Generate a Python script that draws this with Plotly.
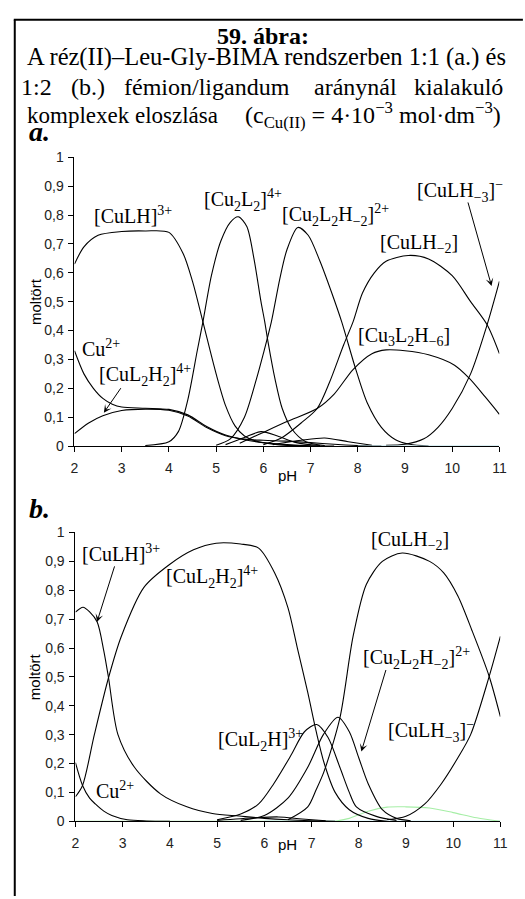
import plotly.graph_objects as go

W, H = 525, 899

# ---------------- a. : 1:1 fémion/ligandum arány ----------------
ph_cu_a = [2.0, 2.2, 2.4, 2.6, 2.8, 3.0, 3.5, 4.0, 4.4, 4.8, 5.2, 5.6, 6.0, 6.5, 7.0, 7.5]
cu_a = [0.33, 0.25, 0.20, 0.165, 0.145, 0.135, 0.131, 0.127, 0.108, 0.068, 0.038, 0.022, 0.012, 0.005, 0.001, 0.0]

ph_culh_a = [2.0, 2.2, 2.5, 3.0, 3.5, 4.0, 4.3, 4.5, 4.72, 5.0, 5.2, 5.4, 5.6, 5.9, 6.3, 7.0]
culh_a = [0.63, 0.69, 0.73, 0.743, 0.745, 0.74, 0.667, 0.57, 0.43, 0.25, 0.14, 0.07, 0.035, 0.015, 0.005, 0.0]

ph_cul2h2_a = [2.0, 2.3, 2.6, 3.0, 3.5, 4.0, 4.4, 4.8, 5.2, 5.6, 6.0, 6.5, 7.0, 7.5, 8.0, 8.5]
cul2h2_a = [0.043, 0.08, 0.105, 0.123, 0.128, 0.124, 0.104, 0.064, 0.036, 0.024, 0.02, 0.017, 0.012, 0.006, 0.002, 0.0]

ph_cu2l2_a = [3.5, 4.0, 4.2, 4.4, 4.6, 4.72, 4.9, 5.1, 5.3, 5.47, 5.65, 5.8, 5.95, 6.03, 6.1, 6.25, 6.4, 6.6, 6.9, 7.3]
cu2l2_a = [0.002, 0.015, 0.05, 0.16, 0.33, 0.43, 0.59, 0.71, 0.775, 0.794, 0.76, 0.65, 0.5, 0.43, 0.36, 0.23, 0.13, 0.06, 0.015, 0.002]

ph_cu2l2hm2_a = [5.0, 5.3, 5.6, 5.85, 6.0, 6.17, 6.35, 6.5, 6.73, 6.95, 7.2, 7.45, 7.66, 7.95, 8.2, 8.5, 8.8, 9.1, 9.5]
cu2l2hm2_a = [0.003, 0.025, 0.1, 0.23, 0.32, 0.43, 0.58, 0.68, 0.757, 0.73, 0.64, 0.53, 0.43, 0.27, 0.15, 0.065, 0.022, 0.006, 0.0]

ph_culhm2_a = [6.0, 6.4, 6.8, 7.14, 7.4, 7.7, 7.9, 8.1, 8.35, 8.6, 9.07, 9.5, 10.0, 10.39, 10.74, 11.0]
culhm2_a = [0.005, 0.03, 0.08, 0.13, 0.22, 0.35, 0.43, 0.53, 0.6, 0.64, 0.66, 0.648, 0.59, 0.5, 0.42, 0.32]

ph_cu3l2hm6_a = [5.5, 5.9, 6.5, 7.14, 7.5, 7.9, 8.3, 8.6, 9.0, 9.5, 10.05, 10.36, 10.7, 11.0]
cu3l2hm6_a = [0.01, 0.04, 0.085, 0.13, 0.18, 0.265, 0.32, 0.333, 0.33, 0.316, 0.28, 0.235, 0.17, 0.11]

ph_culhm3_a = [8.6, 9.0, 9.4, 9.7, 10.0, 10.39, 10.74, 11.0]
culhm3_a = [0.003, 0.006, 0.025, 0.065, 0.13, 0.25, 0.42, 0.57]

ph_minor1_a = [5.2, 5.6, 5.95, 6.3, 6.7, 7.2]
minor1_a = [0.005, 0.03, 0.05, 0.035, 0.012, 0.002]

ph_minor2_a = [6.2, 6.8, 7.3, 7.8, 8.3]
minor2_a = [0.005, 0.02, 0.028, 0.015, 0.003]

ph_ligand_a = [8.0, 11.0]
ligand_a = [0.0, 0.0]

# ---------------- b. : 1:2 fémion/ligandum arány ----------------
ph_cu_b = [2.0, 2.15, 2.3, 2.42, 2.6, 2.77, 3.1, 3.5, 4.0]
cu_b = [0.203, 0.124, 0.08, 0.06, 0.035, 0.02, 0.005, 0.001, 0.0]

ph_culh_b = [2.0, 2.16, 2.3, 2.46, 2.6, 2.7, 2.9, 3.25, 3.8, 4.36, 4.9, 5.47, 6.0, 6.5, 7.0, 7.5]
culh_b = [0.724, 0.741, 0.725, 0.69, 0.59, 0.497, 0.3, 0.187, 0.095, 0.05, 0.027, 0.018, 0.01, 0.005, 0.002, 0.0]

ph_cul2h2_b = [2.0, 2.15, 2.4, 2.7, 2.97, 3.45, 4.0, 4.5, 4.98, 5.5, 5.88, 6.22, 6.5, 6.7, 6.92, 7.1, 7.27, 7.5, 7.8, 8.2, 8.6]
cul2h2_b = [0.085, 0.124, 0.3, 0.497, 0.64, 0.81, 0.89, 0.94, 0.963, 0.96, 0.946, 0.86, 0.74, 0.6, 0.446, 0.31, 0.2, 0.1, 0.04, 0.01, 0.0]

ph_cul2h_b = [5.0, 5.5, 5.88, 6.2, 6.57, 6.85, 7.11, 7.35, 7.6, 7.8, 7.95, 8.37, 8.8]
cul2h_b = [0.005, 0.025, 0.06, 0.13, 0.23, 0.31, 0.335, 0.29, 0.187, 0.1, 0.05, 0.017, 0.003]

ph_cu2l2hm2_b = [5.5, 6.0, 6.5, 6.92, 7.25, 7.56, 7.8, 8.0, 8.2, 8.5, 8.8, 9.1]
cu2l2hm2_b = [0.003, 0.02, 0.08, 0.187, 0.3, 0.36, 0.31, 0.22, 0.13, 0.04, 0.01, 0.002]

ph_culhm2_b = [6.5, 6.92, 7.1, 7.26, 7.6, 7.88, 8.16, 8.5, 8.92, 9.5, 9.8, 10.1, 10.4, 10.76, 11.0]
culhm2_b = [0.005, 0.05, 0.11, 0.17, 0.357, 0.64, 0.82, 0.9, 0.929, 0.9, 0.86, 0.78, 0.66, 0.503, 0.362]

ph_culhm3_b = [8.6, 9.0, 9.4, 9.75, 10.1, 10.37, 10.76, 11.0]
culhm3_b = [0.005, 0.017, 0.06, 0.13, 0.22, 0.3, 0.5, 0.64]

ph_minor_b = [5.0, 5.8, 6.3, 6.8, 7.3]
minor_b = [0.003, 0.012, 0.015, 0.008, 0.002]

ph_green_b = [7.5, 7.8, 8.2, 8.6, 9.0, 9.5, 10.0, 10.5, 11.0]
green_b = [0.0, 0.01, 0.035, 0.049, 0.05, 0.046, 0.03, 0.012, 0.0]

ph_green0_b = [2.0, 7.5]
green0_b = [0.0, 0.0]

ph_cyan_b = [6.0, 11.0]
cyan_b = [0.0, 0.0]

y_ticks = [0, 0.1, 0.2, 0.3, 0.4, 0.5, 0.6, 0.7, 0.8, 0.9, 1]
y_labels = ["0", "0,1", "0,2", "0,3", "0,4", "0,5", "0,6", "0,7", "0,8", "0,9", "1"]
x_ticks = [2, 3, 4, 5, 6, 7, 8, 9, 10, 11]

SERIF = "Liberation Serif, Times New Roman, serif"
SANS = "Liberation Sans, Arial, sans-serif"


def fx(px):
    return px / W


def fy(py):
    return 1 - py / H


series_a = [
    (ph_cu_a, cu_a, "black"), (ph_culh_a, culh_a, "black"), (ph_cul2h2_a, cul2h2_a, "black"),
    (ph_cu2l2_a, cu2l2_a, "black"), (ph_cu2l2hm2_a, cu2l2hm2_a, "black"),
    (ph_culhm2_a, culhm2_a, "black"), (ph_cu3l2hm6_a, cu3l2hm6_a, "black"),
    (ph_culhm3_a, culhm3_a, "black"), (ph_minor1_a, minor1_a, "black"),
    (ph_minor2_a, minor2_a, "black"), (ph_ligand_a, ligand_a, "#b8e0e8"),
]
series_b = [
    (ph_green0_b, green0_b, "#9be89b"), (ph_cyan_b, cyan_b, "#9fe3ee"),
    (ph_green_b, green_b, "#a6eea6"),
    (ph_cu_b, cu_b, "black"), (ph_culh_b, culh_b, "black"), (ph_cul2h2_b, cul2h2_b, "black"),
    (ph_cul2h_b, cul2h_b, "black"), (ph_cu2l2hm2_b, cu2l2hm2_b, "black"),
    (ph_culhm2_b, culhm2_b, "black"), (ph_culhm3_b, culhm3_b, "black"),
    (ph_minor_b, minor_b, "black"),
]

fig = go.Figure()
for xs, ys, col in series_a:
    fig.add_trace(go.Scatter(x=xs, y=ys, mode="lines", xaxis="x", yaxis="y",
                             line=dict(color=col, width=1.1, shape="spline", smoothing=0.8),
                             hoverinfo="skip", showlegend=False, cliponaxis=True))
for xs, ys, col in series_b:
    fig.add_trace(go.Scatter(x=xs, y=ys, mode="lines", xaxis="x2", yaxis="y2",
                             line=dict(color=col, width=1.1, shape="spline", smoothing=0.8),
                             hoverinfo="skip", showlegend=False, cliponaxis=True))

xaxis_style = dict(range=[2, 11], tickvals=x_ticks, ticks="outside", ticklen=5, tickcolor="black",
                   showline=True, linecolor="black", linewidth=1, showgrid=False, zeroline=False,
                   tickfont=dict(family=SANS, size=14, color="#222"), ticklabelstandoff=4,
                   fixedrange=True)
yaxis_style = dict(range=[0, 1], tickvals=y_ticks, ticktext=y_labels, ticks="outside", ticklen=5,
                   tickcolor="black", showline=True, linecolor="black", linewidth=1,
                   showgrid=False, zeroline=False, ticklabelstandoff=2,
                   tickfont=dict(family=SANS, size=14, color="#222"), fixedrange=True)

fig.update_layout(
    width=W, height=H, margin=dict(l=0, r=0, t=0, b=0),
    paper_bgcolor="white", plot_bgcolor="white",
    xaxis=dict(domain=[fx(72), fx(506)], anchor="y", **xaxis_style),
    yaxis=dict(domain=[fy(446), fy(152)], anchor="x", **yaxis_style),
    xaxis2=dict(domain=[fx(73), fx(507)], anchor="y2", **xaxis_style),
    yaxis2=dict(domain=[fy(828), fy(534)], anchor="x2", **yaxis_style),
)

ann = []


def txt(text, px, py, size=20, xanchor="left", family=SERIF, angle=0):
    ann.append(dict(text=text, x=fx(px), y=fy(py), xref="paper", yref="paper",
                    xanchor=xanchor, yanchor="middle", showarrow=False, textangle=angle,
                    font=dict(family=family, size=size, color="black")))


def arrow(tail, head):
    ann.append(dict(text="", x=fx(head[0]), y=fy(head[1]), xref="paper", yref="paper",
                    ax=tail[0] - head[0], ay=tail[1] - head[1], axref="pixel", ayref="pixel",
                    showarrow=True, arrowhead=3, arrowsize=1.3, arrowwidth=1, arrowcolor="black"))


# title block (justified lines are set word by word)
txt("<b>59. ábra:</b>", 265, 29, size=24, xanchor="center")
txt("A réz(II)–Leu-Gly-BIMA rendszerben 1:1 (a.) és", 21, 50, size=24.5)
for word, centre in [("1:2", 33), ("(b.)", 86), ("fémion/ligandum", 207), ("aránynál", 359), ("kialakuló", 464)]:
    txt(word, centre, 80, size=24, xanchor="center")
txt("komplexek eloszlása", 21, 109, size=23)
txt("(c<sub>Cu(II)</sub> = 4·10<sup>−3</sup> mol·dm<sup>−3</sup>)", 510, 109, size=24, xanchor="right")

# panel letters
txt("<b><i>a.</i></b>", 24, 126, size=28)
txt("<b><i>b.</i></b>", 24, 510, size=28)

# axis titles
for yc, ypH in [(299, 476), (681, 852)]:
    txt("moltört", 32, yc, size=15, xanchor="center", family=SANS, angle=-90)
    txt("pH", 290, ypH, size=15, xanchor="center", family=SANS)

# species labels, panel a
txt("[CuLH]<sup>3+</sup>", 90, 211)
txt("[Cu<sub>2</sub>L<sub>2</sub>]<sup>4+</sup>", 202, 195)
txt("[Cu<sub>2</sub>L<sub>2</sub>H<sub>−2</sub>]<sup>2+</sup>", 282, 211)
txt("[CuLH<sub>−2</sub>]", 382, 240)
txt("[CuLH<sub>−3</sub>]<sup>−</sup>", 420, 186)
txt("[Cu<sub>3</sub>L<sub>2</sub>H<sub>−6</sub>]", 360, 334)
txt("Cu<sup>2+</sup>", 78, 346)
txt("[CuL<sub>2</sub>H<sub>2</sub>]<sup>4+</sup>", 95, 374)
arrow((474, 198), (498, 283))
arrow((120, 386), (102, 412))

# species labels, panel b
txt("[CuLH]<sup>3+</sup>", 78, 555)
txt("[CuL<sub>2</sub>H<sub>2</sub>]<sup>4+</sup>", 163, 579)
txt("[CuLH<sub>−2</sub>]", 373, 542)
txt("[Cu<sub>2</sub>L<sub>2</sub>H<sub>−2</sub>]<sup>2+</sup>", 365, 662)
txt("[CuLH<sub>−3</sub>]<sup>−</sup>", 390, 736)
txt("[CuL<sub>2</sub>H]<sup>3+</sup>", 217, 745)
txt("Cu<sup>2+</sup>", 92, 796)
arrow((113, 568), (95, 625))
arrow((390, 674), (365, 757))

fig.update_layout(annotations=ann, shapes=[
    dict(type="line", xref="paper", yref="paper", x0=fx(11), x1=fx(11), y0=fy(12), y1=fy(H + 5),
         line=dict(color="black", width=2)),
    dict(type="line", xref="paper", yref="paper", x0=fx(10), x1=fx(W + 5), y0=fy(12), y1=fy(12),
         line=dict(color="black", width=2)),
])

# the page's default body margin would shift the figure by 8px
fig.write_html("out.html", config={"displayModeBar": False},
               post_script="document.body.style.margin='0';document.body.style.overflow='hidden';")
